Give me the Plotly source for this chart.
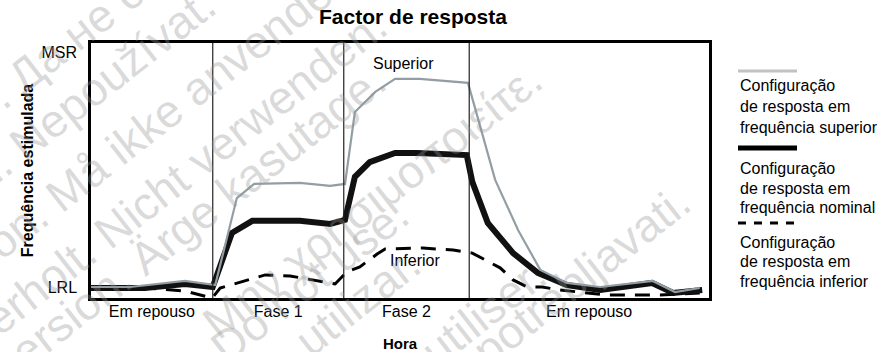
import plotly.graph_objects as go

# time axis (arbitrary units) and stimulated rate (LRL = 60, MSR = 130)
t_superior = [0, 6.3, 15.2, 20.1, 23.6, 26.4, 33.8, 38.7, 41.1, 42.7, 46.0, 49.2, 53.2, 61.0,
              65.4, 69.1, 72.7, 77.0, 82.4, 90.9, 94.5, 98.5]
r_superior = [60, 60, 61.8, 60.6, 86.5, 90.7, 91.0, 90.1, 90.7, 112.1, 118.1, 122.0, 122.0, 120.8,
              91.9, 77.0, 65.1, 61.2, 60.0, 61.8, 58.5, 59.7]

t_nominal = [0, 8.7, 15.2, 19.7, 22.8, 26.1, 33.8, 38.7, 41.1, 42.7, 45.1, 49.2, 52.8, 60.8,
             61.7, 64.2, 68.3, 72.3, 77.0, 82.4, 90.8, 94.2, 98.9]
r_nominal = [59.7, 59.7, 60.9, 60.0, 76.1, 79.7, 79.7, 78.8, 80.0, 92.8, 97.2, 99.9, 99.9, 99.3,
             91.3, 79.1, 70.1, 64.2, 60.6, 59.1, 61.2, 58.2, 59.1]

t_inferior = [0, 8.7, 15.2, 19.6, 20.9, 28.2, 32.2, 39.5, 41.4, 43.5, 46.3, 47.6, 53.7, 58.6,
              61.7, 64.1, 66.2, 68.3, 70.6, 73.0, 75.9, 83.5, 92.1, 98.5]
r_inferior = [59.7, 59.7, 58.8, 56.7, 59.7, 63.6, 63.3, 60.9, 64.5, 66.0, 69.8, 71.3, 71.6, 71.0,
              70.1, 67.7, 65.7, 62.1, 60.0, 60.0, 59.1, 57.6, 57.6, 58.2]

phase_bounds = [0, 19.7, 40.9, 61.2, 100]
phase_labels = ["Em repouso", "Fase 1", "Fase 2", "Em repouso"]

rate_ticks = [60, 130]
rate_labels = ["LRL", "MSR"]

legend_items = [
    ("Configuração", "de resposta em", "frequência superior"),
    ("Configuração", "de resposta em", "frequência nominal"),
    ("Configuração", "de resposta em", "frequência inferior"),
]

watermark = [
    (". Да не се", 75, 35),
    ("n. Nepoužívat.", 92, 90),
    ("sion. Må ikke anvendes.", 160, 117),
    ("erholt. Nicht verwenden.", 185, 172),
    ("ersion. Ärge kasutage.", 198, 216),
    ("Μην χρησιμοποιείτε.", 372, 201),
    ("Do not use.", 309, 281),
    ("utilizar.", 357, 302),
    ("utiliser.", 483, 313),
    ("potrebljavati.", 581, 276),
]

FONT = "Liberation Sans, Arial, sans-serif"
GRAY = "#939ea4"

W, H = 877, 352
L, R, T, B = 91, 168, 43, 54


def px_to_paper(px, py):
    return (px - L) / (W - L - R), (H - B - py) / (H - T - B)


fig = go.Figure()
fig.add_trace(go.Scatter(x=t_inferior, y=r_inferior, mode="lines",
                         line=dict(color="black", width=3, dash="15px,10px")))
fig.add_trace(go.Scatter(x=t_nominal, y=r_nominal, mode="lines",
                         line=dict(color="#111111", width=6)))
fig.add_trace(go.Scatter(x=t_superior, y=r_superior, mode="lines",
                         line=dict(color=GRAY, width=2.2)))

# phase dividers
for b in phase_bounds[1:-1]:
    fig.add_shape(type="line", xref="x", yref="paper", x0=b, x1=b, y0=0, y1=1,
                  line=dict(color="#222222", width=1.2))

mids = [(phase_bounds[i] + phase_bounds[i + 1]) / 2 for i in range(len(phase_labels))]

fig.add_annotation(x=50.5, y=126.7, text="Superior", showarrow=False,
                   font=dict(size=16, color="black"))
fig.add_annotation(x=52.4, y=68.0, text="Inferior", showarrow=False,
                   font=dict(size=16, color="black"))

# custom legend: sample line above a three-line caption
samples = [dict(color="#c2c2c2", width=3), dict(color="black", width=5),
           dict(color="black", width=3, dash="8px,8px")]
sample_y = [71, 148, 223]
text_y = [(85, 106, 127), (168, 188, 208), (242, 261, 281)]
for item, line, sy, tys in zip(legend_items, samples, sample_y, text_y):
    x0, y0 = px_to_paper(738, sy)
    x1, _ = px_to_paper(797, sy)
    fig.add_shape(type="line", xref="paper", yref="paper", x0=x0, x1=x1, y0=y0, y1=y0, line=line)
    for txt, ty in zip(item, tys):
        ax, ay = px_to_paper(738, ty)
        fig.add_annotation(xref="paper", yref="paper", x=ax, y=ay, text=txt, showarrow=False,
                           xanchor="left", yanchor="middle", font=dict(size=16, color="black"))

for txt, cx, cy in watermark:
    ax, ay = px_to_paper(cx, cy)
    fig.add_annotation(xref="paper", yref="paper", x=ax, y=ay, text=txt, showarrow=False,
                       textangle=-38, xanchor="center", yanchor="middle",
                       font=dict(size=46, color="rgba(150,150,150,0.35)"))

fig.update_layout(
    width=W, height=H,
    margin=dict(l=L, r=R, t=T, b=B, autoexpand=False),
    paper_bgcolor="white", plot_bgcolor="white",
    showlegend=False,
    font=dict(family=FONT, color="black", size=16),
    title=dict(text="<b>Factor de resposta</b>", xref="paper", x=px_to_paper(413, 0)[0],
               xanchor="center", yref="container", y=1 - 17 / H, yanchor="middle",
               font=dict(size=21)),
    xaxis=dict(range=[0, 100], tickvals=mids, ticktext=phase_labels, ticks="",
               ticklabelstandoff=-3, showgrid=False, zeroline=False, automargin=False,
               showline=True, linecolor="black", linewidth=2.5, mirror=True,
               title=dict(text="<b>Hora</b>", standoff=20, font=dict(size=15))),
    yaxis=dict(range=[56.72, 132.68], tickvals=rate_ticks, ticktext=rate_labels, ticks="",
               ticklabelstandoff=8, showgrid=False, zeroline=False, automargin=False,
               showline=True, linecolor="black", linewidth=2.5, mirror=True,
               title=dict(text="<b>Frequência estimulada</b>", standoff=4, font=dict(size=16))),
)

# drop the default 8px body margin so the figure fills the window exactly
fig.write_html("out.html", config={"displayModeBar": False},
               post_script="document.body.style.margin='0';document.body.style.overflow='hidden';")
